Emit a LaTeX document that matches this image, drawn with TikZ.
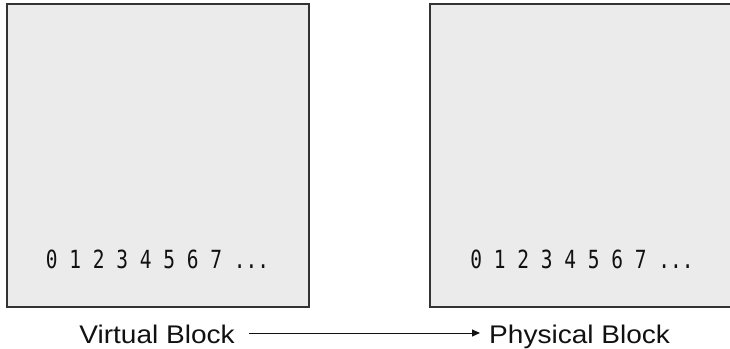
\documentclass[tikz,border=0pt]{standalone}
\usepackage{fontspec}
\setmainfont[FakeStretch=1.1]{Liberation Sans}
\newfontfamily\digitfont[FakeStretch=0.78]{DejaVu Sans Mono}
\usetikzlibrary{arrows.meta}
\definecolor{boxfill}{HTML}{EBEBEB}
\definecolor{boxline}{HTML}{333333}
\definecolor{inkc}{HTML}{111111}
\begin{document}
\begin{tikzpicture}[x=1pt,y=-1pt,
  block/.style={draw=boxline,fill=boxfill,line width=1.3pt,minimum width=302pt,minimum height=303pt,inner sep=0pt,outer sep=0pt},
  digits/.style={font=\digitfont\fontsize{25}{26}\selectfont,text=inkc,inner sep=0pt,anchor=base},
  label/.style={font=\fontsize{25.5}{28}\selectfont,text=inkc,inner sep=0pt,anchor=base},
  link/.style={draw=inkc,line width=1pt,-{Triangle[length=8pt,width=7pt]}}]
\useasboundingbox (0,0) rectangle (730,348);
\begin{scope}
\clip (0,0) rectangle (730,348);
\node[block] (vb) at (158,155.5) {};
\node[block] (pb) at (581,155.5) {};
\end{scope}
\node[digits] (vd) at (157.5,268) {0 1 2 3 4 5 6 7 ...};
\node[digits] (pd) at (582,268) {0 1 2 3 4 5 6 7 ...};
\node[label,anchor=base east] (vl) at (235,343) {Virtual Block};
\node[label,anchor=base west] (pl) at (489,343) {Physical Block};
\draw[link] ([xshift=14pt,yshift=10pt]vl.base east) -- ([xshift=-9pt,yshift=10pt]pl.base west);
\end{tikzpicture}
\end{document}
